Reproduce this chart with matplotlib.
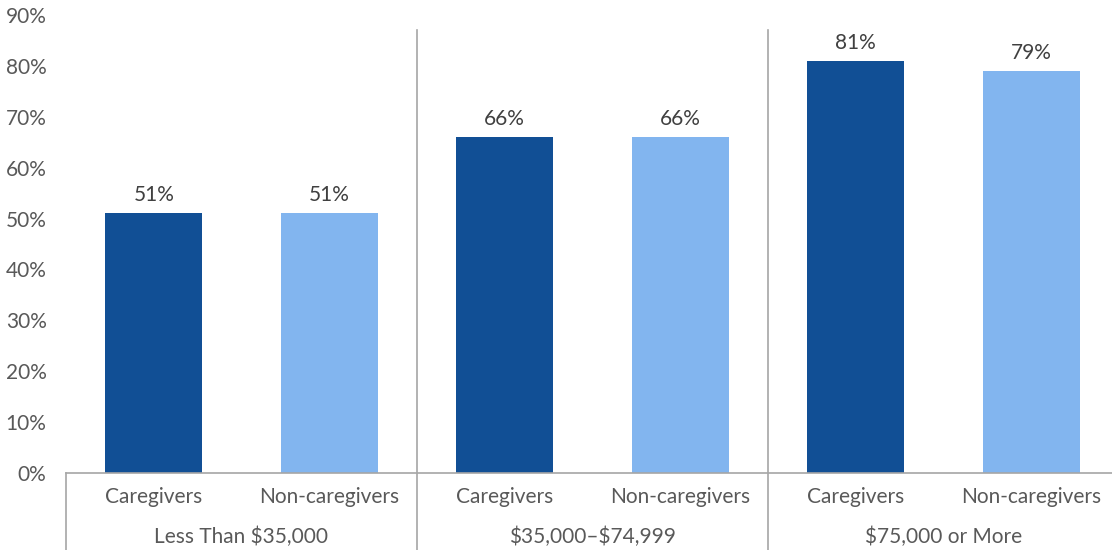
import matplotlib
matplotlib.use("Agg")
import matplotlib.pyplot as plt
from matplotlib.lines import Line2D
import matplotlib.transforms as mtransforms

# data
groups = ["Less Than \\$35,000", "\\$35,000\u2013\\$74,999", "\\$75,000 or More"]
series = ["Caregivers", "Non-caregivers"]
values = [51, 51, 66, 66, 81, 79]
yticks = [0, 10, 20, 30, 40, 50, 60, 70, 80, 90]

dark = "#114f95"
light = "#82b5ef"
txt = "#595959"
line_c = "#a6a6a6"
fs = 15

plt.rcParams["font.family"] = ["Lato", "DejaVu Sans"]

fig = plt.figure(figsize=(11.12, 5.5), dpi=100)
ax = fig.add_axes([66 / 1112, 77 / 550, 1053 / 1112, 458 / 550])

x = list(range(len(values)))
colors = [dark if i % 2 == 0 else light for i in x]
bars = ax.bar(x, values, width=0.55, color=colors, zorder=2)

for b, v in zip(bars, values):
    ax.text(b.get_x() + b.get_width() / 2, v + 1.6, f"{v}%", ha="center", va="bottom",
            fontsize=fs, color="#404040")

ax.set_xlim(-0.5, len(values) - 0.5)
ax.set_ylim(0, 90)
ax.set_yticks(yticks)
ax.set_yticklabels([f"{t}%" for t in yticks], fontsize=fs, color=txt)
ax.tick_params(axis="y", length=0, pad=14)
ax.set_xticks([])

for s in ["top", "right", "left"]:
    ax.spines[s].set_visible(False)
ax.spines["bottom"].set_color(line_c)
ax.spines["bottom"].set_linewidth(1.2)

trans = mtransforms.blended_transform_factory(ax.transData, ax.transAxes)
px = 1 / 458  # one pixel in axes height

# series labels and group labels under the axis
for i in x:
    ax.text(i, -24 * px, series[i % 2], transform=trans, ha="center", va="center",
            fontsize=fs, color=txt)
for g, name in enumerate(groups):
    ax.text(2 * g + 0.5, -64 * px, name, transform=trans, ha="center", va="center",
            fontsize=fs, color=txt)

# group dividers
bottom = -77 * px
ax.add_line(Line2D([-0.5, -0.5], [0, bottom], transform=trans, color=line_c,
                   lw=1.2, clip_on=False))
for xs in [1.5, 3.5]:
    ax.add_line(Line2D([xs, xs], [443 * px, bottom], transform=trans, color=line_c,
                       lw=1.2, clip_on=False))

fig.savefig("out.png", dpi=100)
